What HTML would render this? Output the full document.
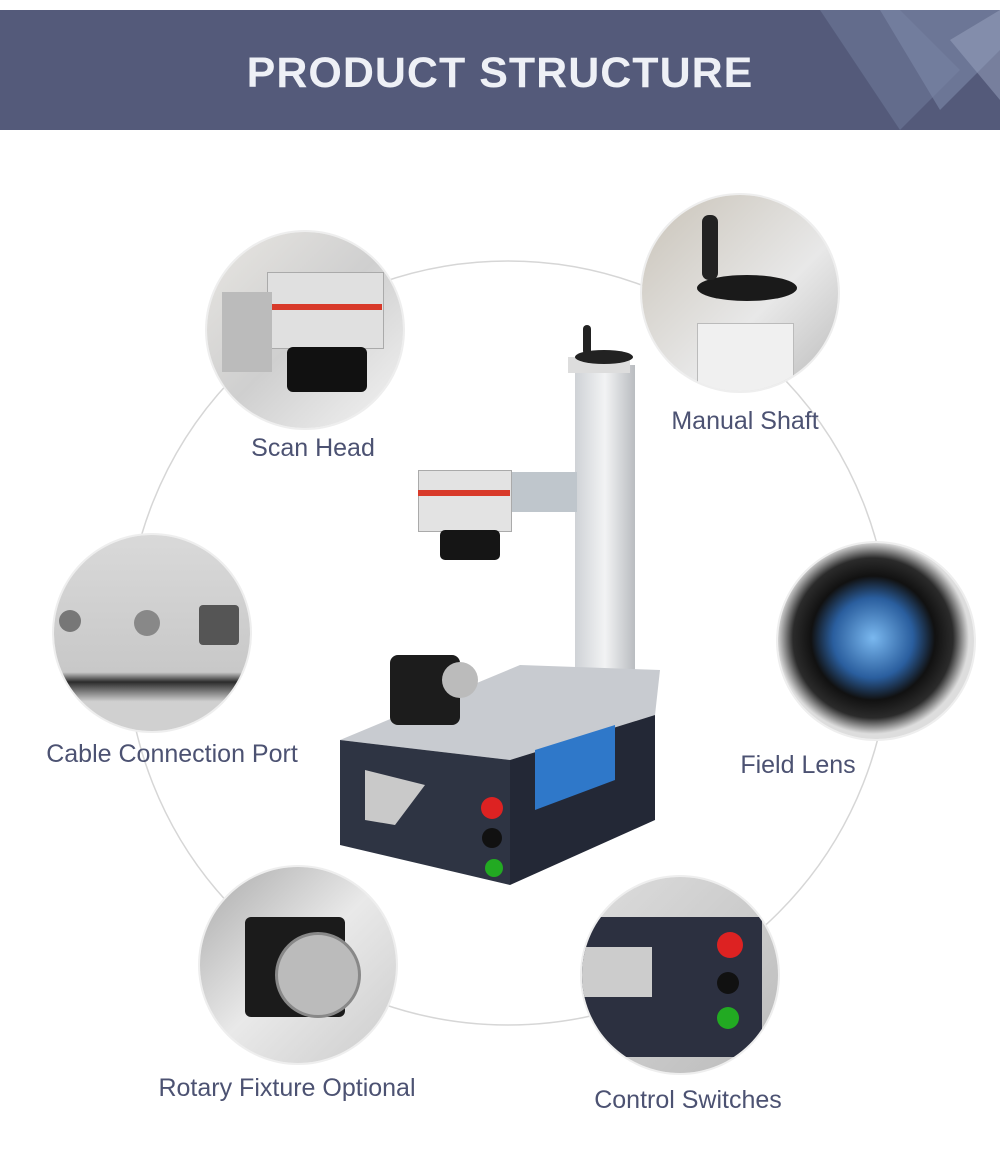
<!DOCTYPE html>
<html><head><meta charset="utf-8"><style>
body{margin:0;width:1000px;height:1169px;background:#fff;position:relative;overflow:hidden;font-family:"Liberation Sans",sans-serif}
.hdr{position:absolute;left:0;top:10px;width:1000px;height:120px;background:#545a7a;overflow:hidden}
.hdr h1{margin:0;position:absolute;top:39px;width:100%;text-align:center;color:#eef0f6;font-size:43px;font-weight:bold;letter-spacing:1px}
.ph{position:absolute;width:196px;height:196px;border-radius:50%;overflow:hidden;box-shadow:0 0 0 2px #eee}
.lbl{position:absolute;color:#4c5272;font-size:25px;white-space:nowrap;transform:translateX(-50%)}
.a{position:absolute}
</style></head><body>
<div class="hdr">
<svg width="1000" height="120" style="position:absolute;left:0;top:0">
<polygon points="820,0 900,0 960,60 900,120" fill="#6a7394" opacity=".7"/>
<polygon points="880,0 1000,0 1000,40 940,100" fill="#7d88a8" opacity=".6"/>
<polygon points="950,30 1000,0 1000,90" fill="#9aa4c0" opacity=".5"/>
</svg>
<h1>PRODUCT STRUCTURE</h1></div>
<svg class="a" style="left:0;top:0" width="1000" height="1169"><circle cx="508" cy="643" r="382" fill="none" stroke="#d6d6d6" stroke-width="1.5"/></svg>

<div class="ph" style="left:207px;top:232px;background:linear-gradient(135deg,#e8e6e2,#cfcfcf 50%,#f4f4f4)">
<div class="a" style="left:60px;top:40px;width:115px;height:75px;background:#e0e0e0;border:1px solid #aaa"></div>
<div class="a" style="left:60px;top:72px;width:115px;height:6px;background:#d83a2a"></div>
<div class="a" style="left:80px;top:115px;width:80px;height:45px;background:#111;border-radius:6px"></div>
<div class="a" style="left:15px;top:60px;width:50px;height:80px;background:#bbb"></div></div>

<div class="ph" style="left:642px;top:195px;background:linear-gradient(135deg,#c9c3b8,#e8e8e8 60%,#bbb)">
<div class="a" style="left:55px;top:80px;width:100px;height:26px;background:#1a1a1a;border-radius:50%"></div>
<div class="a" style="left:60px;top:20px;width:16px;height:65px;background:#222;border-radius:7px"></div>
<div class="a" style="left:55px;top:128px;width:95px;height:70px;background:#f0f0f0;border:1px solid #bbb"></div></div>

<div class="ph" style="left:778px;top:543px;background:radial-gradient(circle at 95px 95px,#7ab8ef 0,#2a5e9e 40px,#111 62px,#2b2b2b 80px,#ddd 96px)"></div>

<div class="ph" style="left:54px;top:535px;background:linear-gradient(#d9d9d9,#c8c8c8 70%,#2b2b2b 75%,#d0d0d0 85%)">
<div class="a" style="left:5px;top:75px;width:22px;height:22px;border-radius:50%;background:#777"></div>
<div class="a" style="left:80px;top:75px;width:26px;height:26px;border-radius:50%;background:#888"></div>
<div class="a" style="left:145px;top:70px;width:40px;height:40px;background:#555;border-radius:4px"></div></div>

<div class="ph" style="left:200px;top:867px;background:linear-gradient(135deg,#aaa,#e9e9e9 50%,#ccc)">
<div class="a" style="left:45px;top:50px;width:100px;height:100px;background:#1b1b1b;border-radius:6px"></div>
<div class="a" style="left:75px;top:65px;width:80px;height:80px;border-radius:50%;background:#bbb;border:3px solid #888"></div></div>

<div class="ph" style="left:582px;top:877px;background:linear-gradient(135deg,#ddd,#bbb)">
<div class="a" style="left:0;top:40px;width:180px;height:140px;background:#2c3040"></div>
<div class="a" style="left:0;top:70px;width:70px;height:50px;background:#ccc"></div>
<div class="a" style="left:135px;top:55px;width:26px;height:26px;border-radius:50%;background:#d22"></div>
<div class="a" style="left:135px;top:95px;width:22px;height:22px;border-radius:50%;background:#111"></div>
<div class="a" style="left:135px;top:130px;width:22px;height:22px;border-radius:50%;background:#2a2"></div></div>

<div class="a" style="left:575px;top:365px;width:60px;height:325px;background:linear-gradient(90deg,#cfd2d6,#f2f3f4 50%,#b9bcc0)"></div>
<div class="a" style="left:568px;top:357px;width:62px;height:16px;background:#ddd"></div>
<div class="a" style="left:575px;top:350px;width:58px;height:14px;background:#222;border-radius:50%"></div>
<div class="a" style="left:583px;top:325px;width:8px;height:30px;background:#222;border-radius:4px"></div>
<div class="a" style="left:505px;top:472px;width:72px;height:40px;background:#bfc6cc"></div>
<div class="a" style="left:418px;top:470px;width:92px;height:60px;background:#e3e3e3;border:1px solid #aaa"></div>
<div class="a" style="left:418px;top:490px;width:92px;height:6px;background:#d83a2a"></div>
<div class="a" style="left:440px;top:530px;width:60px;height:30px;background:#151515;border-radius:5px"></div>
<svg class="a" style="left:330px;top:640px" width="340" height="250">
<polygon points="10,100 190,25 330,30 325,75 180,120" fill="#c8cbd0"/>
<polygon points="10,100 180,120 180,245 10,205" fill="#2e3443"/>
<polygon points="180,120 325,75 325,180 180,245" fill="#232836"/>
<polygon points="205,110 285,85 285,140 205,170" fill="#2f78c9"/>
<polygon points="35,130 95,145 65,185 35,180" fill="#c9c9c9"/>
<circle cx="162" cy="168" r="11" fill="#d22"/><circle cx="162" cy="198" r="10" fill="#111"/><circle cx="164" cy="228" r="9" fill="#2a2"/>
<rect x="60" y="15" width="70" height="70" rx="8" fill="#1c1c1c"/><circle cx="130" cy="40" r="18" fill="#bbb"/>
</svg>

<div class="lbl" style="left:313px;top:434px">Scan Head</div>
<div class="lbl" style="left:745px;top:407px">Manual Shaft</div>
<div class="lbl" style="left:172px;top:740px">Cable Connection Port</div>
<div class="lbl" style="left:798px;top:751px">Field Lens</div>
<div class="lbl" style="left:287px;top:1074px">Rotary Fixture Optional</div>
<div class="lbl" style="left:688px;top:1086px">Control Switches</div>
</body></html>
